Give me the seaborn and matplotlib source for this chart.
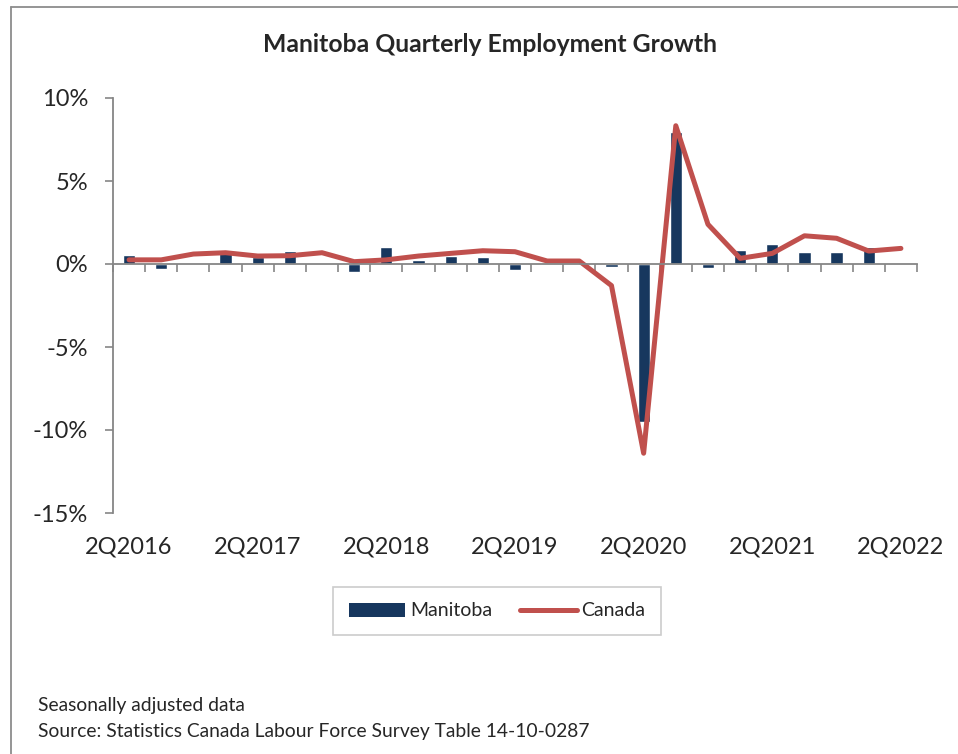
import numpy as np
import pandas as pd
import matplotlib
matplotlib.use("Agg")
import matplotlib.pyplot as plt
from matplotlib.patches import Patch
from matplotlib.lines import Line2D
from matplotlib.ticker import FuncFormatter, FixedLocator, NullFormatter
import seaborn as sns

# quarterly growth, %
quarters = [f"{q}Q{y}" for y in range(2016, 2023) for q in range(1, 5)][1:-2]
manitoba = [0.52, -0.28, 0.0, 0.7, 0.45, 0.76, 0.0, -0.46, 1.02, 0.25, 0.5, 0.4,
            -0.38, 0.0, 0.05, -0.2, -9.5, 7.93, -0.26, 0.84, 1.22, 0.7, 0.7, 1.02, 0.0]
canada = [0.25, 0.25, 0.6, 0.68, 0.48, 0.5, 0.68, 0.14, 0.25, 0.48, 0.64, 0.8,
          0.74, 0.18, 0.18, -1.3, -11.4, 8.33, 2.39, 0.34, 0.64, 1.7, 1.55, 0.78, 0.94]
yticks = [10, 5, 0, -5, -10, -15]
label_every = 4

bar_color = "#17375E"
line_color = "#C0504D"
axis_color = "#868686"

sns.set_style("white")
plt.rcParams['font.family'] = ['Lato', 'DejaVu Sans']

df = pd.DataFrame({"quarter": quarters, "Manitoba": manitoba, "Canada": canada})

fig = plt.figure(figsize=(9.58, 7.54), dpi=100)
ax = fig.add_axes([113 / 958, 1 - 513 / 754, (917 - 113) / 958, (513 - 98) / 754])

sns.barplot(data=df, x="quarter", y="Manitoba", color=bar_color, width=0.38,
            saturation=1, ax=ax)
sns.pointplot(data=df, x="quarter", y="Canada", color=line_color, markers="",
              linewidth=3.6, errorbar=None, ax=ax)
for ln in ax.lines:
    ln.set_solid_capstyle("round")
    ln.set_solid_joinstyle("round")

ax.set_xlim(-0.5, len(quarters) - 0.5)
ax.set_ylim(-15, 10)
ax.set_xlabel("")
ax.set_ylabel("")

# y axis
ax.set_yticks(yticks)
ax.yaxis.set_major_formatter(FuncFormatter(lambda v, p: f"{v:.0f}%"))
ax.tick_params(axis="y", left=True, direction="out", length=6, width=1.2,
               color=axis_color, pad=12, labelsize=17)
for s in ["top", "right"]:
    ax.spines[s].set_visible(False)
ax.spines["left"].set_color(axis_color)
ax.spines["left"].set_linewidth(1.3)

# category axis sits on the zero line, ticks at category boundaries
ax.spines["bottom"].set_position(("data", 0))
ax.spines["bottom"].set_color(axis_color)
ax.spines["bottom"].set_linewidth(1.3)
ax.xaxis.set_major_locator(FixedLocator(np.arange(-0.5, len(quarters), 1)))
ax.xaxis.set_major_formatter(NullFormatter())
ax.tick_params(axis="x", bottom=True, direction="out", length=6, width=1.2,
               color=axis_color)

# labels along the bottom of the plot, every 4th quarter
lab = ax.secondary_xaxis("bottom")
lab.set_xticks(range(0, len(quarters), label_every))
lab.set_xticklabels(quarters[::label_every])
lab.tick_params(axis="x", length=0, pad=17, labelsize=17)
lab.spines["bottom"].set_visible(False)

# title and notes
fig.text(490 / 958, 1 - 45 / 754, "Manitoba Quarterly Employment Growth",
         ha="center", va="center", fontsize=17.8, fontweight="bold")
fig.text(38 / 958, 1 - 705 / 754, "Seasonally adjusted data", ha="left",
         va="center", fontsize=13.9)
fig.text(38 / 958, 1 - 732 / 754,
         "Source: Statistics Canada Labour Force Survey Table 14-10-0287",
         ha="left", va="center", fontsize=13.9)

handles = [Patch(facecolor=bar_color, edgecolor="none"),
           Line2D([0], [0], color=line_color, lw=3.6, solid_capstyle="round")]
leg = fig.legend(handles, ["Manitoba", "Canada"], loc="center",
                 bbox_to_anchor=(497 / 958, 1 - 611 / 754), ncol=2, fontsize=14,
                 frameon=True, fancybox=False, edgecolor="#bfbfbf",
                 handlelength=2.9, handletextpad=0.25, columnspacing=1.45,
                 borderpad=0.8, borderaxespad=0)
leg.get_frame().set_linewidth(1.2)

# outer frame (top and left edges)
fig.add_artist(Line2D([11 / 958, 11 / 958], [0, 1 - 7 / 754], color="#8c8c8c",
                      lw=1.3, transform=fig.transFigure))
fig.add_artist(Line2D([11 / 958, 1], [1 - 7 / 754, 1 - 7 / 754], color="#8c8c8c",
                      lw=1.3, transform=fig.transFigure))

fig.savefig("out.png", dpi=100)
